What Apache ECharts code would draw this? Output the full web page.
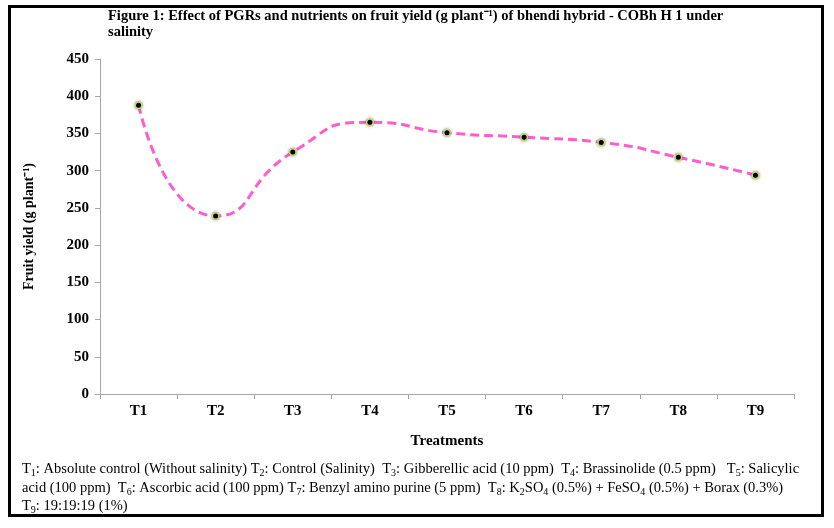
<!DOCTYPE html>
<html><head><meta charset="utf-8">
<script src="https://cdn.jsdelivr.net/npm/echarts@6/dist/echarts.min.js"></script>
<style>html,body{margin:0;padding:0;background:#fff}#c{width:834px;height:528px}</style>
</head><body><div id="c"></div>
<script>
const categories = ['T1','T2','T3','T4','T5','T6','T7','T8','T9'];
const yieldValues = [388, 239, 325, 365, 351, 345, 338, 318, 294];
const yTicks = {min: 0, max: 450, interval: 50};
const titleLine1 = 'Figure 1: Effect of PGRs and nutrients on fruit yield (g plant\u207B\u00B9) of bhendi hybrid - COBh H 1 under';
const titleLine2 = 'salinity';
const footLines = [
  'T{s|1}: Absolute control (Without salinity) T{s|2}: Control (Salinity)  T{s|3}: Gibberellic acid (10 ppm)  T{s|4}: Brassinolide (0.5 ppm)   T{s|5}: Salicylic',
  'acid (100 ppm)  T{s|6}: Ascorbic acid (100 ppm) T{s|7}: Benzyl amino purine (5 ppm)  T{s|8}: K{s|2}SO{s|4} (0.5%) + FeSO{s|4} (0.5%) + Borax (0.3%)',
  'T{s|9}: 19:19:19 (1%)'
];
const serif = '"Liberation Serif","Times New Roman",serif';
const chart = echarts.init(document.getElementById('c'));
chart.setOption({
  animation: false,
  backgroundColor: '#fff',
  grid: {left: 100, right: 40, top: 59, bottom: 134},
  xAxis: {
    type: 'category', data: categories, boundaryGap: true,
    name: 'Treatments', nameLocation: 'middle', nameGap: 40,
    nameTextStyle: {fontFamily: serif, fontWeight: 'bold', fontSize: 15, color: '#000'},
    axisLine: {lineStyle: {color: '#a6a6a6', width: 1}},
    axisTick: {show: true, length: 5, lineStyle: {color: '#a6a6a6'}},
    axisLabel: {fontFamily: serif, fontWeight: 'bold', fontSize: 15, color: '#000', margin: 10}
  },
  yAxis: {
    type: 'value', min: yTicks.min, max: yTicks.max, interval: yTicks.interval,
    name: 'Fruit yield (g plant\u207B\u00B9)', nameLocation: 'middle', nameGap: 64, nameRotate: 90,
    nameTextStyle: {fontFamily: serif, fontWeight: 'bold', fontSize: 14, color: '#000'},
    axisLine: {show: true, lineStyle: {color: '#a6a6a6', width: 1}},
    axisTick: {show: true, length: 5, lineStyle: {color: '#a6a6a6'}},
    splitLine: {show: false},
    axisLabel: {fontFamily: serif, fontWeight: 'bold', fontSize: 15, color: '#000', margin: 11}
  },
  series: [{
    type: 'line', data: yieldValues, smooth: 0.6,
    lineStyle: {color: '#ff5ccc', width: 3, type: [9, 5]},
    symbol: 'circle', symbolSize: 6.5,
    itemStyle: {color: '#000', borderColor: '#c5d66b', borderWidth: 1.5, shadowBlur: 3, shadowColor: 'rgba(0,0,0,0.35)'}
  }],
  graphic: [
    {type: 'rect', shape: {x: 9.5, y: 6.5, width: 813, height: 509}, style: {fill: 'none', stroke: '#000', lineWidth: 3}, z: 100},
    {type: 'text', left: 108, top: 9, style: {text: titleLine1, font: 'bold 14.5px ' + serif, fill: '#000'}},
    {type: 'text', left: 108, top: 25, style: {text: titleLine2, font: 'bold 14.5px ' + serif, fill: '#000'}},
    {type: 'text', left: 22, top: 460, style: {
      text: footLines.join('\n'), font: '14.5px ' + serif, fill: '#000', lineHeight: 18.5,
      rich: {s: {fontSize: 10, fontFamily: serif, lineHeight: 10, verticalAlign: 'bottom'}}
    }}
  ]
});
</script></body></html>
